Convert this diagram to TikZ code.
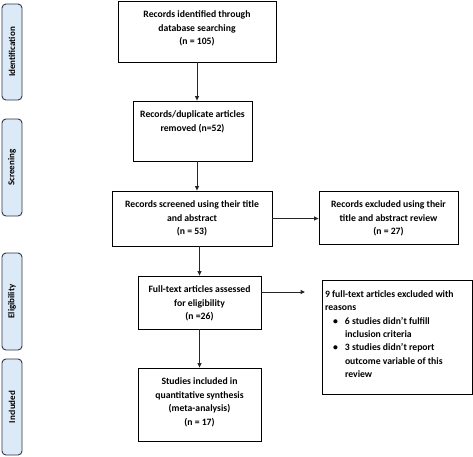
\documentclass[tikz,border=0pt]{standalone}
\usepackage{fontspec}
\setmainfont{Carlito}
\usepackage{tikz}
\usetikzlibrary{arrows.meta,positioning}

\definecolor{phasefill}{RGB}{220,234,248}
\definecolor{phaseline}{RGB}{45,55,70}

% box text: width, height, lines (set from the top)
\newcommand{\boxtxt}[3]{\parbox[c][#2][t]{#1}{\centering\vspace{7.5pt}\strut#3}}

\begin{document}
\begin{tikzpicture}[x=1pt, y=-1pt, >=Stealth,
    box/.style={draw, line width=0.8pt, inner sep=0pt,
      font=\bfseries\fontsize{9.7}{13.4}\selectfont},
    phase/.style={draw=phaseline, line width=0.9pt, fill=phasefill,
      rounded corners=4pt, inner sep=0pt, minimum width=20pt,
      font=\bfseries\fontsize{9}{12}\selectfont},
    flow/.style={-{Triangle[length=4.5pt,width=4pt]}, line width=1pt, draw=black!85}]
  \useasboundingbox (0,0) rectangle (473,456);

  % phases
  \node[phase, minimum height=96pt] (ident) at (12,52) {\rotatebox{90}{Identification}};
  \node[phase, minimum height=97pt] (screen) at (12,167.5) {\rotatebox{90}{Screening}};
  \node[phase, minimum height=97pt] (elig) at (12,301.5) {\rotatebox{90}{Eligibility}};
  \node[phase, minimum height=96pt] (incl) at (12,407) {\rotatebox{90}{Included}};

  % flow boxes
  \node[box] (found) at (197,31.5)
    {\boxtxt{158pt}{61pt}{Records identified through\\database searching\\(n = 105)}};
  \node[box] (dupl) at (192.5,131)
    {\boxtxt{119pt}{60pt}{Records/duplicate articles\\removed (n=52)}};
  \node[box] (scrd) at (192,218.5)
    {\boxtxt{160pt}{55pt}{Records screened using their title\\and abstract\\(n = 53)}};
  \node[box] (excl) at (388.5,217.5)
    {\boxtxt{139pt}{53pt}{Records excluded using their\\title and abstract review\\(n = 27)}};
  \node[box] (full) at (199.5,302.5)
    {\boxtxt{123pt}{53pt}{Full-text articles assessed\\for eligibility\\(n =26)}};
  \node[box] (why) at (397,337)
    {\parbox[c][114pt][t]{150pt}{\raggedright\leftskip=3pt\vspace{8pt}\strut
      9 full-text articles excluded with\\
      reasons\\
      \makebox[20pt][r]{\textbullet\hspace{7pt}}6 studies didn't fulfill\\
      \hspace*{20pt}inclusion criteria\\
      \makebox[20pt][r]{\textbullet\hspace{7pt}}3 studies didn't report\\
      \hspace*{20pt}outcome variable of this\\
      \hspace*{20pt}review}};
  \node[box] (incd) at (199.5,404.5)
    {\boxtxt{123pt}{73pt}{Studies included in\\quantitative synthesis\\(meta-analysis)\\(n = 17)}};

  \coordinate (gap) at (305,292);

  % arrows
  \draw[flow] (found.south) -- (found.south |- dupl.north);
  \draw[flow] (dupl.south -| found.south) -- (scrd.north -| found.south);
  \draw[flow] (scrd.east) -- (scrd.east -| excl.west);
  \draw[flow] (scrd.south -| full.north) -- (full.north);
  \draw[flow] (full.east |- gap) -- (gap);
  \draw[flow] (full.south) -- (incd.north);
\end{tikzpicture}
\end{document}
